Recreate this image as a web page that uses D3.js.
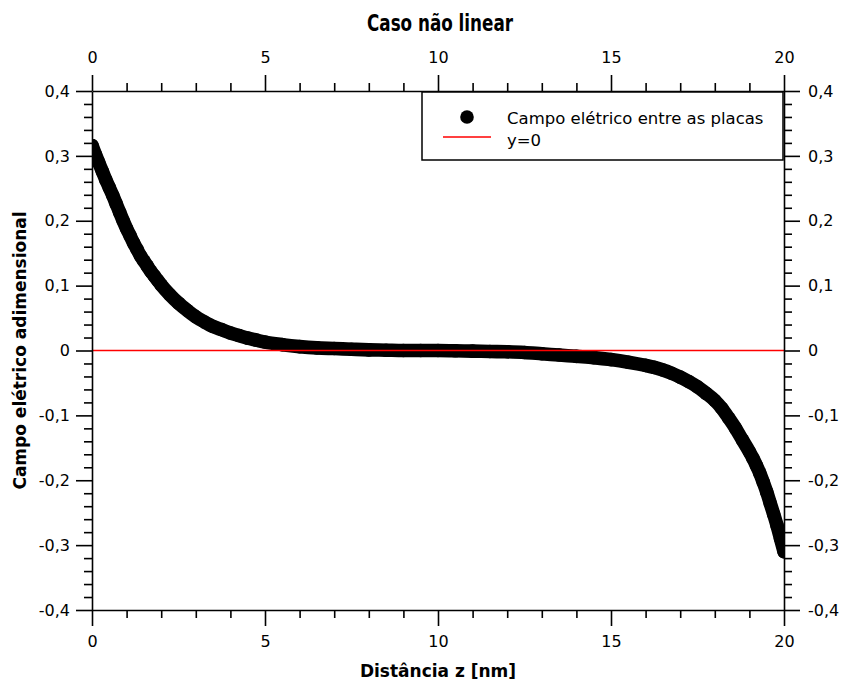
<!DOCTYPE html>
<html>
<head>
<meta charset="utf-8">
<script src="https://cdn.jsdelivr.net/npm/d3@7/dist/d3.min.js"></script>
<style>
  html, body { margin: 0; padding: 0; background: #fff; }
  svg { display: block; }
</style>
</head>
<body>
<script>
// Distance between the plates (nm)
const zNm = [
  0, 0.1, 0.2, 0.3, 0.4, 0.5, 0.6, 0.7, 0.8, 0.9, 1.0, 1.1, 1.2, 1.3, 1.4, 1.5, 1.6, 1.7, 1.8, 1.9, 2.0,
  2.25, 2.5, 2.75, 3.0, 3.25, 3.5, 3.75, 4.0, 4.25, 4.5, 4.75, 5.0,
  5.5, 6.0, 6.5, 7.0, 7.5, 8.0, 8.5, 9.0, 9.5, 10.0, 10.5, 11.0, 11.5, 12.0, 12.5, 13.0, 13.5, 14.0, 14.5, 15.0, 15.5, 16.0,
  16.25, 16.5, 16.75, 17.0, 17.25, 17.5, 17.75, 18.0,
  18.2, 18.4, 18.6, 18.8, 19.0,
  19.1, 19.2, 19.3, 19.4, 19.5, 19.6, 19.7, 19.8, 19.9, 20.0
];
// Dimensionless electric field at each distance
const campo = [
  0.316, 0.302, 0.289, 0.276, 0.263, 0.251, 0.239, 0.226, 0.213, 0.200, 0.188, 0.177, 0.166, 0.156, 0.146, 0.138, 0.130, 0.122, 0.115, 0.108, 0.101,
  0.086, 0.073, 0.062, 0.052, 0.044, 0.037, 0.032, 0.027, 0.023, 0.019, 0.016, 0.013,
  0.009, 0.006, 0.004, 0.003, 0.002, 0.001, 0.0005, 0, 0, 0, -0.0005, -0.001, -0.0015, -0.002, -0.003, -0.005, -0.007, -0.009, -0.011, -0.014, -0.018, -0.023,
  -0.026, -0.030, -0.035, -0.041, -0.048, -0.056, -0.066, -0.077,
  -0.089, -0.104, -0.120, -0.138, -0.156,
  -0.166, -0.177, -0.189, -0.203, -0.218, -0.235, -0.252, -0.270, -0.290, -0.310
];
// Reference line y = 0
const zeroLineX = [0, 20];
const zeroLineY = [0, 0];

const xTickValues = [0, 5, 10, 15, 20];
const yTickValues = [-0.4, -0.3, -0.2, -0.1, 0, 0.1, 0.2, 0.3, 0.4];

const chartTitle = "Caso não linear";
const xTitle = "Distância z [nm]";
const yTitle = "Campo elétrico adimensional";
const legendLabels = ["Campo elétrico entre as placas", "y=0"];

const W = 848, H = 682;
const plotL = 92, plotR = 784, plotT = 91, plotB = 610;
const FONT = "'DejaVu Sans', Verdana, sans-serif";
const markerR = 6.8;

const x = d3.scaleLinear().domain([0, 20]).range([plotL, plotR]);
const y = d3.scaleLinear().domain([-0.4, 0.4]).range([plotB, plotT]);

const svg = d3.select("body").append("svg")
  .attr("width", W).attr("height", H)
  .style("background", "#fff");

const xMinor = d3.range(0, 21, 1).filter(v => v % 5 !== 0);
const yMinor = d3.range(-40, 41, 2).filter(v => v % 10 !== 0).map(v => v / 100);

const fmtY = d => d === 0 ? "0" : d.toFixed(1).replace(".", ",");
const fmtX = d => String(d);

// Clip for the data
svg.append("defs").append("clipPath").attr("id", "plot-clip")
  .append("rect").attr("x", plotL).attr("y", plotT)
  .attr("width", plotR - plotL).attr("height", plotB - plotT);

const pts = zNm.map((z, i) => [z, campo[i]]);

// Series: dense markers drawn as a band plus the markers themselves
const dataG = svg.append("g").attr("clip-path", "url(#plot-clip)");
dataG.append("path")
  .datum(pts)
  .attr("d", d3.line().x(d => x(d[0])).y(d => y(d[1])).curve(d3.curveMonotoneX))
  .attr("fill", "none")
  .attr("stroke", "#000")
  .attr("stroke-width", markerR * 2)
  .attr("stroke-linejoin", "round")
  .attr("stroke-linecap", "round");
dataG.selectAll("circle.pt").data(pts).join("circle")
  .attr("class", "pt")
  .attr("cx", d => x(d[0])).attr("cy", d => y(d[1]))
  .attr("r", markerR).attr("fill", "#000");

// y = 0 line
svg.append("path")
  .datum(zeroLineX.map((v, i) => [v, zeroLineY[i]]))
  .attr("d", d3.line().x(d => x(d[0])).y(d => y(d[1])))
  .attr("stroke", "#ff0000").attr("stroke-width", 1.5).attr("fill", "none");

// Axes (ticks point outward on all four sides)
function styleAxis(g) {
  g.attr("font-family", FONT).attr("font-size", 16);
  g.selectAll("path.domain").attr("stroke", "#000").attr("stroke-width", 1.6);
  g.selectAll(".tick line").attr("stroke", "#000").attr("stroke-width", 1.6);
  g.selectAll(".tick text").attr("fill", "#000");
}
function minorAxis(axis, vals, tr) {
  svg.append("g").attr("transform", tr)
    .call(axis.tickValues(vals).tickSize(8).tickSizeOuter(0).tickFormat(""))
    .call(g => g.select("path.domain").remove())
    .call(g => g.selectAll(".tick line").attr("stroke", "#000").attr("stroke-width", 1.6));
}

minorAxis(d3.axisBottom(x), xMinor, `translate(0,${plotB})`);
minorAxis(d3.axisTop(x), xMinor, `translate(0,${plotT})`);
minorAxis(d3.axisLeft(y), yMinor, `translate(${plotL},0)`);
minorAxis(d3.axisRight(y), yMinor, `translate(${plotR},0)`);

svg.append("g").attr("transform", `translate(0,${plotB})`)
  .call(d3.axisBottom(x).tickValues(xTickValues).tickSize(16).tickSizeOuter(0).tickPadding(10).tickFormat(fmtX))
  .call(styleAxis);
svg.append("g").attr("transform", `translate(0,${plotT})`)
  .call(d3.axisTop(x).tickValues(xTickValues).tickSize(16).tickSizeOuter(0).tickPadding(12).tickFormat(fmtX))
  .call(styleAxis);
svg.append("g").attr("transform", `translate(${plotL},0)`)
  .call(d3.axisLeft(y).tickValues(yTickValues).tickSize(16).tickSizeOuter(0).tickPadding(6).tickFormat(fmtY))
  .call(styleAxis);
svg.append("g").attr("transform", `translate(${plotR},0)`)
  .call(d3.axisRight(y).tickValues(yTickValues).tickSize(16).tickSizeOuter(0).tickPadding(8).tickFormat(fmtY))
  .call(styleAxis);

// Titles
svg.append("text")
  .attr("x", 440).attr("y", 31)
  .attr("text-anchor", "middle")
  .attr("font-family", FONT).attr("font-weight", "bold").attr("font-size", 23)
  .attr("textLength", 146).attr("lengthAdjust", "spacingAndGlyphs")
  .text(chartTitle);
svg.append("text")
  .attr("x", (plotL + plotR) / 2).attr("y", 677)
  .attr("text-anchor", "middle")
  .attr("font-family", FONT).attr("font-weight", "bold").attr("font-size", 17)
  .text(xTitle);
svg.append("text")
  .attr("transform", `translate(26,${(plotT + plotB) / 2}) rotate(-90)`)
  .attr("text-anchor", "middle")
  .attr("font-family", FONT).attr("font-weight", "bold").attr("font-size", 17)
  .text(yTitle);

// Legend
const lg = svg.append("g");
lg.append("rect")
  .attr("x", 422).attr("y", 92).attr("width", 361).attr("height", 68)
  .attr("fill", "#fff").attr("stroke", "#000").attr("stroke-width", 1.5);
lg.append("circle").attr("cx", 467).attr("cy", 117).attr("r", markerR).attr("fill", "#000");
lg.append("line").attr("x1", 443).attr("x2", 491).attr("y1", 137).attr("y2", 137)
  .attr("stroke", "#ff0000").attr("stroke-width", 1.5);
lg.selectAll("text.lbl").data(legendLabels).join("text")
  .attr("class", "lbl")
  .attr("x", 507).attr("y", (d, i) => 124 + i * 22)
  .attr("font-family", FONT).attr("font-size", 16.5)
  .text(d => d);
</script>
</body>
</html>
